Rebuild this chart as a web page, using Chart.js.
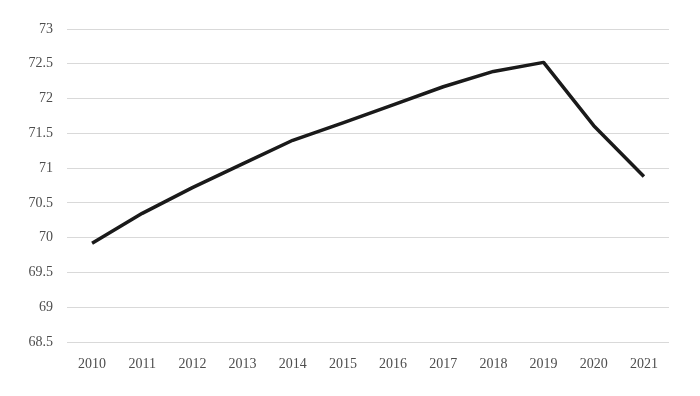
<!DOCTYPE html>
<html>
<head>
<meta charset="utf-8">
<script src="https://cdn.jsdelivr.net/npm/chart.js@4/dist/chart.umd.min.js"></script>
<style>
  html, body { margin: 0; padding: 0; background: #fff; }
  #wrap { width: 700px; height: 396px; position: relative; }
</style>
</head>
<body>
<div id="wrap"><canvas id="chart"></canvas></div>
<script>
// Data
const years = ['2010','2011','2012','2013','2014','2015','2016','2017','2018','2019','2020','2021'];
const values = [69.92, 70.35, 70.72, 71.06, 71.40, 71.65, 71.91, 72.17, 72.39, 72.52, 71.61, 70.88];
const yMin = 68.5;
const yMax = 73;
const yStep = 0.5;

new Chart(document.getElementById('chart'), {
  type: 'line',
  data: {
    labels: years,
    datasets: [{
      data: values,
      borderColor: '#1a1a1a',
      borderWidth: 3.5,
      borderJoinStyle: 'round',
      tension: 0,
      pointRadius: 0,
      fill: false,
    }],
  },
  options: {
    responsive: true,
    maintainAspectRatio: false,
    animation: false,
    layout: { padding: { top: 29, right: 31, left: 0, bottom: 0 } },
    plugins: { legend: { display: false }, tooltip: { enabled: false } },
    scales: {
      x: {
        offset: true,
        grid: { display: false },
        border: { display: false },
        ticks: { color: '#4d4d4d', font: { family: 'Liberation Serif', size: 14 }, padding: 6, maxRotation: 0 },
        afterFit: (s) => { s.height = 54; },
      },
      y: {
        min: yMin,
        max: yMax,
        grid: { color: '#d9d9d9', lineWidth: 1, drawTicks: false },
        border: { display: false },
        ticks: {
          stepSize: yStep,
          color: '#4d4d4d',
          font: { family: 'Liberation Serif', size: 14 },
          padding: 14,
          callback: (v) => String(Math.round(v * 10) / 10),
        },
        afterFit: (s) => { s.width = 67; },
      },
    },
  },
});
</script>
</body>
</html>
